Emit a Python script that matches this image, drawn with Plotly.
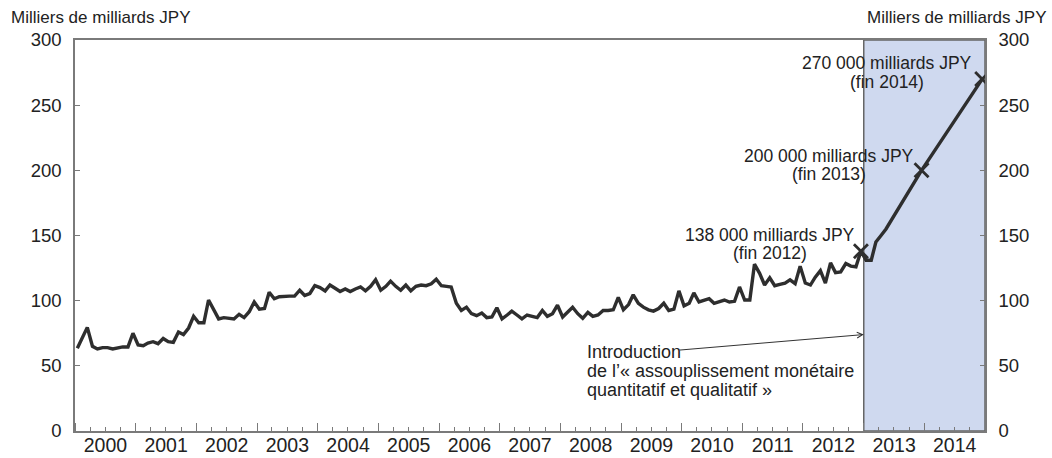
import plotly.graph_objects as go

# Japanese monetary base, thousands of billions of yen (monthly)
values_by_year = {
    2000: [63.5, 72, 79.5, 65, 63, 64, 64, 63, 64, 64.5, 64.5, 75],
    2001: [66, 65.5, 67.5, 68.5, 67, 71, 68.5, 68, 76, 74, 79, 88],
    2002: [83, 83, 100.5, 93, 86, 87, 86.5, 86, 89.5, 87, 91.5, 99],
    2003: [93.5, 94, 106.5, 101.5, 103, 103.5, 103.5, 103.5, 108, 104, 105.5, 111.5],
    2004: [110, 107.5, 112, 109.5, 107, 109, 107, 109, 110.5, 107.5, 111, 116],
    2005: [108, 111, 115, 111, 108, 112, 107.5, 111, 112, 111.5, 113, 116.5],
    2006: [111.5, 111, 110.5, 98, 92.5, 95, 90, 88.5, 90.5, 87, 87.5, 94.5],
    2007: [86, 89, 92, 89, 86, 89, 88, 87, 92.5, 88, 90, 96.5],
    2008: [87.5, 91, 95, 90, 86.5, 91, 88, 89, 92.5, 92.5, 93, 102.5],
    2009: [93, 97, 104.5, 98, 95, 93, 92, 94, 98, 92.5, 93.5, 107.5],
    2010: [96, 98, 106, 99, 100.5, 101.5, 98, 99, 100.5, 99, 99.5, 110.5],
    2011: [100.5, 100.5, 128, 121, 112, 117.5, 111.5, 112.5, 113.5, 116, 113, 126.5],
    2012: [113.5, 112, 118, 123, 113.5, 129, 121.5, 122, 128.5, 126.5, 126, 138],
}
# 2013-2014: outturns for early 2013, then year-end targets
path_months = ["2013-01", "2013-02", "2013-03", "2013-04", "2013-05", "2013-12", "2014-12"]
path_values = [131, 131, 145, 150, 155, 200, 270]

# Year-end levels highlighted with a cross, with a two-line caption each
target_months = ["2012-12", "2013-12", "2014-12"]
target_values = [138, 200, 270]
target_amounts = ["138 000 milliards JPY", "200 000 milliards JPY", "270 000 milliards JPY"]
target_periods = ["(fin 2012)", "(fin 2013)", "(fin 2014)"]
caption_xshift = [-91, -93, -95]
caption_yshift = [(16, -2), (14, -4), (16, -3)]

unit_label = "Milliers de milliards JPY"
policy_lines = ["Introduction",
                "de l’« assouplissement monétaire",
                "quantitatif et qualitatif »"]
policy_line_y = [0.2008, 0.1522, 0.1036]

dates, vals = [], []
for yr, row in values_by_year.items():
    for m, v in enumerate(row, start=1):
        dates.append(f"{yr}-{m:02d}-15")
        vals.append(v)
for ym, v in zip(path_months, path_values):
    dates.append(ym + "-15")
    vals.append(v)

INK = "#2e2e2e"
AXIS = "#7a7a7a"
TEXT = "#222222"
FONT = "Liberation Sans, Arial, sans-serif"

fig = go.Figure()
fig.add_trace(go.Scatter(x=dates, y=vals, mode="lines",
                         line=dict(color=INK, width=3.4), hoverinfo="skip"))
fig.add_trace(go.Scatter(x=[m + "-15" for m in target_months], y=target_values,
                         mode="markers", yaxis="y2",
                         marker=dict(symbol="x-thin", size=14,
                                     line=dict(color=INK, width=2.8)),
                         hoverinfo="skip"))

# Shaded period of the new easing programme
fig.add_shape(type="rect", xref="x", yref="y",
              x0="2013-01-01", x1="2015-01-01", y0=0, y1=300,
              fillcolor="#cfd9ef", line=dict(color="#666666", width=1.5),
              layer="below")

for m, v, amt, per, dx, (dy1, dy2) in zip(target_months, target_values, target_amounts,
                                           target_periods, caption_xshift, caption_yshift):
    for txt, dy in ((amt, dy1), (per, dy2)):
        fig.add_annotation(x=m + "-15", y=v, text=txt, showarrow=False,
                           xshift=dx, yshift=dy, xanchor="center", yanchor="middle",
                           font=dict(size=17.5, color=TEXT))

for txt, yy in zip(policy_lines, policy_line_y):
    fig.add_annotation(xref="paper", yref="paper", x=0.5604, y=yy,
                       xanchor="left", yanchor="middle", text=txt,
                       showarrow=False, font=dict(size=18, color=TEXT))
fig.add_annotation(x="2013-01-01", y=74, ax="2009-12-10", ay=62,
                   axref="x", ayref="y", text="", showarrow=True,
                   arrowhead=5, arrowsize=1.1, arrowwidth=1, arrowcolor="#333333")

fig.add_annotation(xref="paper", yref="paper", x=-0.0725, y=1.0588,
                   xanchor="left", yanchor="middle", text=unit_label,
                   showarrow=False, font=dict(size=17, color=TEXT))
fig.add_annotation(xref="paper", yref="paper", x=1.0692, y=1.0588,
                   xanchor="right", yanchor="middle", text=unit_label,
                   showarrow=False, font=dict(size=17, color=TEXT))

yax = dict(range=[0, 300], dtick=50, ticks="inside", ticklen=5,
           tickcolor=AXIS, showline=True, linecolor=AXIS, linewidth=1.5,
           showgrid=False, zeroline=False, ticklabelstandoff=8, automargin=False,
           tickfont=dict(size=18.5, color=TEXT))

fig.update_layout(
    width=1052, height=458,
    margin=dict(l=75, r=67, t=40, b=27),
    paper_bgcolor="white", plot_bgcolor="white",
    showlegend=False,
    font=dict(family=FONT, color=TEXT),
    xaxis=dict(type="date", range=["2000-01-01", "2015-01-01"],
               dtick="M12", tick0="2000-01-01", tickformat="%Y",
               ticklabelmode="period", ticks="inside", ticklen=8,
               tickcolor=AXIS, showline=True, mirror=True,
               linecolor=AXIS, linewidth=1.5, showgrid=False,
               automargin=False, ticklabelstandoff=-4,
               tickfont=dict(size=19.5, color=TEXT),
               minor=dict(dtick="M3", ticks="inside", ticklen=4,
                          tickcolor=AXIS, showgrid=False)),
    yaxis=dict(side="left", **yax),
    yaxis2=dict(side="right", overlaying="y", **yax),
)

fig.write_html("out.html")
